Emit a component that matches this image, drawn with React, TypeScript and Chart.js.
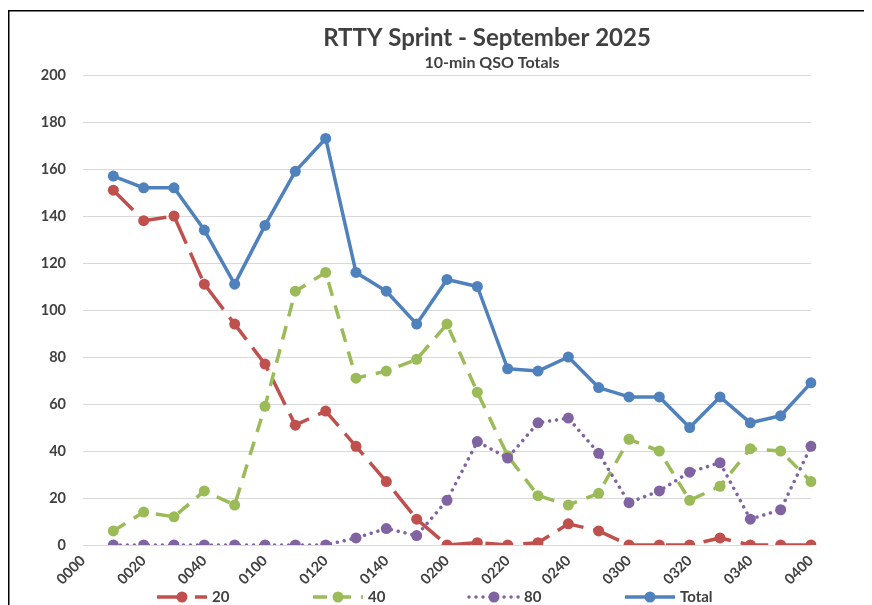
import React, { useEffect, useRef } from 'react';
import { Chart, registerables } from 'chart.js';

Chart.register(...registerables);

const timeLabels = ['0000', '0010', '0020', '0030', '0040', '0050', '0100', '0110', '0120', '0130', '0140', '0150', '0200', '0210', '0220', '0230', '0240', '0250', '0300', '0310', '0320', '0330', '0340', '0350', '0400'];
const band20 = [null, 151, 138, 140, 111, 94, 77, 51, 57, 42, 27, 11, 0, 1, 0, 1, 9, 6, 0, 0, 0, 3, 0, 0, 0];
const band40 = [null, 6, 14, 12, 23, 17, 59, 108, 116, 71, 74, 79, 94, 65, 38, 21, 17, 22, 45, 40, 19, 25, 41, 40, 27];
const band80 = [null, 0, 0, 0, 0, 0, 0, 0, 0, 3, 7, 4, 19, 44, 37, 52, 54, 39, 18, 23, 31, 35, 11, 15, 42];
const totals = [null, 157, 152, 152, 134, 111, 136, 159, 173, 116, 108, 94, 113, 110, 75, 74, 80, 67, 63, 63, 50, 63, 52, 55, 69];
const seriesNames = ['20', '40', '80', 'Total'];
const yMin = 0;
const yMax = 200;
const yStep = 20;

const titleText = 'RTTY Sprint - September 2025';
const subtitleText = '10-min QSO Totals';

const FONT = 'Lato, "Open Sans", sans-serif';
const TEXT = '#404040';
const colors = ['#C0504D', '#9BBB59', '#8064A2', '#4F81BD'];
const dashes = [[28, 10], [14, 10], [0.01, 7], []];
const LW = 3.5;

const decorPlugin = {
  id: 'decor',
  beforeDraw(chart: any) {
    const ctx = chart.ctx;
    ctx.save();
    ctx.fillStyle = '#000';
    ctx.fillRect(0, 2, chart.width, 1.5);
    ctx.fillRect(0, 2, 1.5, chart.height);
    ctx.restore();
  },
  afterDraw(chart: any) {
    const ctx = chart.ctx;
    ctx.save();
    ctx.fillStyle = TEXT;
    ctx.textAlign = 'center';
    ctx.textBaseline = 'alphabetic';
    ctx.font = `bold 24px ${FONT}`;
    ctx.fillText(titleText, 479, 38);
    ctx.font = `bold 16px ${FONT}`;
    ctx.fillText(subtitleText, 484, 60);

    // legend
    const y = 589;
    seriesNames.forEach((name, i) => {
      const x0 = 149 + i * 156;
      ctx.strokeStyle = colors[i];
      ctx.lineWidth = LW;
      ctx.lineCap = i === 2 ? 'round' : 'butt';
      ctx.setLineDash(dashes[i]);
      ctx.beginPath();
      ctx.moveTo(x0, y);
      ctx.lineTo(x0 + 50, y);
      ctx.stroke();
      ctx.setLineDash([]);
      ctx.fillStyle = colors[i];
      ctx.beginPath();
      ctx.arc(x0 + 25, y, 5.5, 0, Math.PI * 2);
      ctx.fill();
      ctx.fillStyle = TEXT;
      ctx.font = `bold 15px ${FONT}`;
      ctx.textAlign = 'left';
      ctx.textBaseline = 'middle';
      ctx.fillText(name, x0 + 55, y);
    });
    ctx.restore();
  },
};

export default function App() {
  const ref = useRef<HTMLCanvasElement>(null);
  useEffect(() => {
    if (!ref.current) return;
    const series = [band20, band40, band80, totals];
    const chart = new Chart(ref.current, {
      type: 'line',
      data: {
        labels: timeLabels,
        datasets: series.map((d, i) => ({
          label: seriesNames[i],
          data: d,
          borderColor: colors[i],
          backgroundColor: colors[i],
          borderWidth: LW,
          borderDash: dashes[i],
          borderCapStyle: i === 2 ? 'round' : 'butt',
          borderJoinStyle: 'round',
          pointRadius: 5.5,
          pointBorderWidth: 0,
          pointBackgroundColor: colors[i],
          pointBorderColor: colors[i],
          tension: 0,
          fill: false,
          spanGaps: false,
          order: 3 - i,
        })) as any,
      },
      options: {
        animation: false,
        responsive: false,
        maintainAspectRatio: false,
        devicePixelRatio: 1,
        layout: { padding: { top: 67, right: 61, bottom: 0, left: 0 } },
        plugins: {
          legend: { display: false },
          title: { display: false },
          tooltip: { enabled: false },
        },
        scales: {
          x: {
            type: 'category',
            offset: false,
            grid: { display: false, drawTicks: false },
            border: { display: false },
            ticks: {
              autoSkip: false,
              maxRotation: 45,
              minRotation: 45,
              padding: 7,
              color: TEXT,
              font: { family: FONT, size: 14.5, weight: 'bold' },
              callback: (_v: any, i: number) => (i % 2 === 0 ? timeLabels[i] : ''),
            },
            afterFit: (s: any) => {
              s.height = 60;
            },
          },
          y: {
            min: yMin,
            max: yMax,
            grid: { color: '#D9D9D9', lineWidth: 1, drawTicks: false },
            border: { display: false },
            ticks: {
              stepSize: yStep,
              padding: 17,
              color: TEXT,
              font: { family: FONT, size: 14.5, weight: 'bold' },
            },
            afterFit: (s: any) => {
              s.width = 75;
            },
          },
        },
      } as any,
      plugins: [decorPlugin],
    });
    return () => chart.destroy();
  }, []);
  return (
    <>
      <style>{`html,body{overflow:hidden;background:#fff}`}</style>
      <canvas ref={ref} width={864} height={597} style={{ display: 'block', width: 864, height: 597 }} />
    </>
  );
}
